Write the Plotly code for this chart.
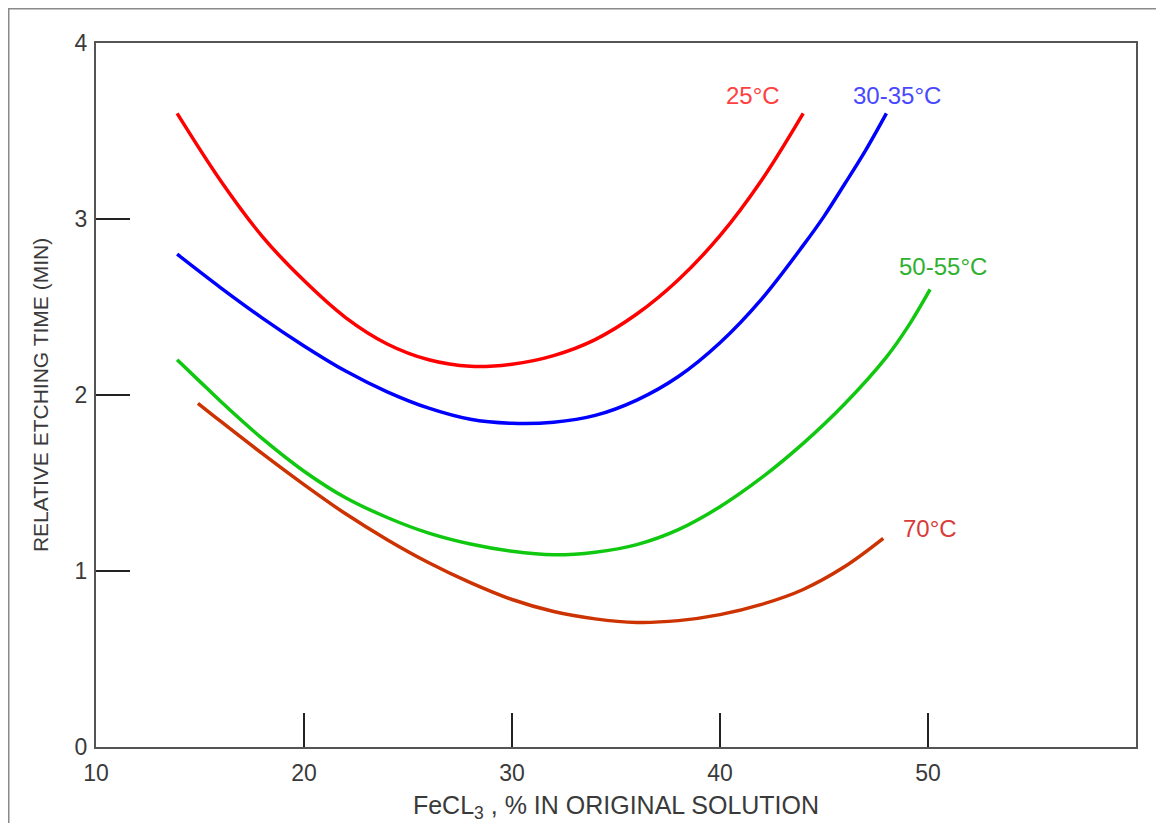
import plotly.graph_objects as go

# ---- data ----
red_x = [13.9, 16, 18, 20, 22, 24, 26, 28, 30, 32, 34, 36, 38, 40, 42, 44.0]
red_y = [3.60, 3.216, 2.90, 2.65, 2.44, 2.29, 2.20, 2.163, 2.175, 2.224, 2.315, 2.46, 2.655, 2.905, 3.22, 3.60]

blue_x = [13.9, 16, 18, 20, 22, 24, 26, 28, 30, 32, 34, 36, 38, 40, 42, 44, 45, 46, 47, 48.0]
blue_y = [2.80, 2.609, 2.437, 2.279, 2.136, 2.018, 1.925, 1.862, 1.839, 1.845, 1.884, 1.971, 2.105, 2.297, 2.545, 2.85, 3.015, 3.20, 3.39, 3.60]

green_x = [13.9, 15, 16, 18, 20, 22, 24, 26, 28, 30, 32, 34, 36, 38, 40, 42, 44, 46, 48, 49.1, 50.1]
green_y = [2.20, 2.076, 1.963, 1.752, 1.567, 1.416, 1.304, 1.215, 1.153, 1.112, 1.092, 1.107, 1.15, 1.235, 1.365, 1.53, 1.725, 1.95, 2.215, 2.40, 2.60]

brown_x = [14.9, 16, 18, 20, 22, 24, 26, 28, 30, 32, 34, 36, 38, 40, 42, 44, 46, 47.85]
brown_y = [1.953, 1.85, 1.667, 1.491, 1.325, 1.178, 1.047, 0.934, 0.838, 0.77, 0.728, 0.708, 0.718, 0.752, 0.81, 0.895, 1.025, 1.185]

series_names = ["25°C", "30-35°C", "50-55°C", "70°C"]
line_colors = ["#ff0000", "#0000ff", "#10c810", "#cc3300"]
label_colors = ["#ff4040", "#4848ff", "#30b030", "#d93a3a"]
label_x = [41.6, 48.5, 50.7, 50.1]
label_y = [3.70, 3.70, 2.73, 1.244]

x_ticks = [10, 20, 30, 40, 50]
y_ticks = [0, 1, 2, 3, 4]

FONT = "Liberation Sans, Arial, sans-serif"
TXT = "#3a3a3a"

fig = go.Figure()
for xs, ys, name, col in zip([red_x, blue_x, green_x, brown_x],
                             [red_y, blue_y, green_y, brown_y],
                             series_names, line_colors):
    fig.add_trace(go.Scatter(x=xs, y=ys, mode="lines", name=name,
                             line=dict(color=col, width=3.5, shape="spline", smoothing=1.0),
                             showlegend=False, hoverinfo="skip"))

for name, col, lx, ly in zip(series_names, label_colors, label_x, label_y):
    fig.add_annotation(x=lx, y=ly, text=name, showarrow=False,
                       font=dict(family=FONT, size=24, color=col),
                       xanchor="center", yanchor="middle")

# outer frame of the picture (left and top edges)
fig.add_shape(type="rect", xref="paper", yref="paper",
              x0=(8.75 - 96) / 1040, x1=1.2, y0=-0.3, y1=(747 - 8.75) / 704,
              line=dict(color="#8a8a8a", width=1.5), fillcolor="rgba(0,0,0,0)", layer="below")

# page body adds an 8px offset; figure sized so the plot box lands at x 96-1136, y 43-747
fig.update_layout(
    width=1156, height=815,
    margin=dict(l=88, r=28, t=35, b=76, autoexpand=False),
    paper_bgcolor="white", plot_bgcolor="white",
    font=dict(family=FONT, color=TXT),
)
fig.update_xaxes(
    range=[10, 60], tickvals=x_ticks, ticktext=[str(v) for v in x_ticks],
    ticks="inside", ticklen=34, tickwidth=1.5, tickcolor="#222",
    showline=True, linecolor="#555", linewidth=2, mirror=True,
    showgrid=False, zeroline=False, automargin=False,
    tickfont=dict(family=FONT, size=23, color=TXT), ticklabelstandoff=4,
    title=dict(text="FeCL<sub>3</sub> , % IN ORIGINAL SOLUTION",
               font=dict(family=FONT, size=25, color=TXT), standoff=12),
)
fig.update_yaxes(
    range=[0, 4], tickvals=y_ticks, ticktext=[str(v) for v in y_ticks],
    ticks="inside", ticklen=34, tickwidth=1.5, tickcolor="#222",
    showline=True, linecolor="#555", linewidth=2, mirror=True,
    showgrid=False, zeroline=False, automargin=False,
    tickfont=dict(family=FONT, size=23, color=TXT), ticklabelstandoff=2,
    title=dict(text="RELATIVE ETCHING TIME (MIN)",
               font=dict(family=FONT, size=21, color=TXT), standoff=20),
)

fig.write_html("out.html")
